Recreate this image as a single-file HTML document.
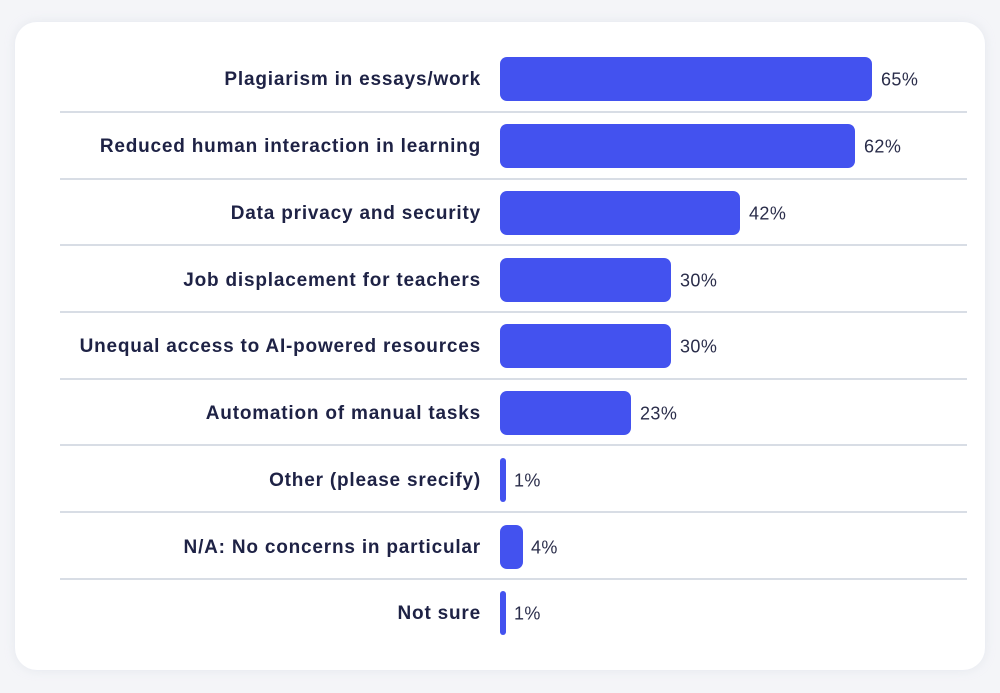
<!DOCTYPE html>
<html><head><style>
body{margin:0;width:1000px;height:693px;background:#f4f5f8;font-family:"Liberation Sans",sans-serif;position:relative;overflow:hidden}
.card{position:absolute;left:15px;top:22px;width:970px;height:648px;background:#fff;border-radius:22px;box-shadow:0 0 10px rgba(200,205,220,.35)}
.lab{position:absolute;right:519px;font-weight:bold;font-size:19px;letter-spacing:0.8px;color:#1e2245;white-space:nowrap;transform:translateY(-46%)}
.bar{position:absolute;left:500px;height:44px;background:#4352ef;border-radius:7px;transform:translateY(-50%)}
.val{position:absolute;font-size:18px;letter-spacing:0.4px;color:#2a2d4a;transform:translateY(-46%)}
.sep{position:absolute;left:60px;width:907px;height:2px;background:#d8dde5}
</style></head><body>
<div class="card"></div>
<div class="lab" style="top:79px">Plagiarism in essays/work</div><div class="bar" style="top:79px;width:372px"></div><div class="val" style="top:79px;left:881px">65%</div>
<div class="sep" style="top:111px"></div>
<div class="lab" style="top:146px">Reduced human interaction in learning</div><div class="bar" style="top:146px;width:355px"></div><div class="val" style="top:146px;left:864px">62%</div>
<div class="sep" style="top:178px"></div>
<div class="lab" style="top:213px">Data privacy and security</div><div class="bar" style="top:213px;width:240px"></div><div class="val" style="top:213px;left:749px">42%</div>
<div class="sep" style="top:244px"></div>
<div class="lab" style="top:280px">Job displacement for teachers</div><div class="bar" style="top:280px;width:171px"></div><div class="val" style="top:280px;left:680px">30%</div>
<div class="sep" style="top:311px"></div>
<div class="lab" style="top:346px">Unequal access to AI-powered resources</div><div class="bar" style="top:346px;width:171px"></div><div class="val" style="top:346px;left:680px">30%</div>
<div class="sep" style="top:378px"></div>
<div class="lab" style="top:413px">Automation of manual tasks</div><div class="bar" style="top:413px;width:131px"></div><div class="val" style="top:413px;left:640px">23%</div>
<div class="sep" style="top:444px"></div>
<div class="lab" style="top:480px">Other (please srecify)</div><div class="bar" style="top:480px;width:6px;border-radius:3px"></div><div class="val" style="top:480px;left:514px">1%</div>
<div class="sep" style="top:511px"></div>
<div class="lab" style="top:547px">N/A: No concerns in particular</div><div class="bar" style="top:547px;width:23px"></div><div class="val" style="top:547px;left:531px">4%</div>
<div class="sep" style="top:578px"></div>
<div class="lab" style="top:613px">Not sure</div><div class="bar" style="top:613px;width:6px;border-radius:3px"></div><div class="val" style="top:613px;left:514px">1%</div>
</body></html>
